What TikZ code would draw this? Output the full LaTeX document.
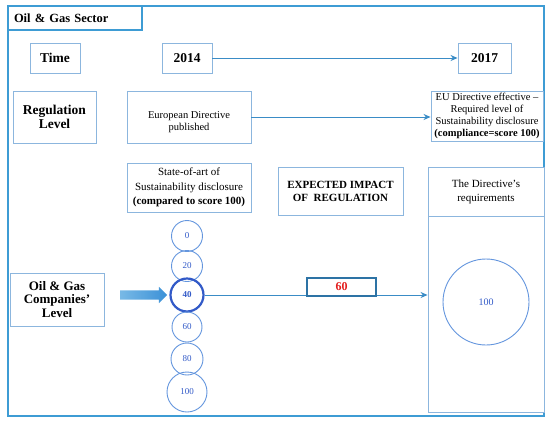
\documentclass[tikz,border=0pt]{standalone}
\usepackage{fontspec}
\setmainfont{Liberation Serif}
\usetikzlibrary{arrows.meta,shapes.arrows}
\newcommand\myfs[2]{\fontsize{#1}{#2}\selectfont}
\definecolor{frameblue}{RGB}{62,156,212}
\definecolor{boxblue}{RGB}{140,182,222}
\definecolor{lineblue}{RGB}{58,140,198}
\definecolor{circblue}{RGB}{100,150,222}
\definecolor{circtext}{RGB}{50,90,200}
\definecolor{arrowlight}{RGB}{120,185,230}
\definecolor{arrowblue}{RGB}{60,145,215}
\definecolor{tealbox}{RGB}{45,115,165}
\definecolor{valred}{RGB}{228,30,30}
\begin{document}
\begin{tikzpicture}[x=1pt,y=-1pt,
  box/.style={draw=boxblue, line width=0.9pt, inner sep=1pt, align=center, fill=white},
  bigbold/.style={font=\bfseries\myfs{13.5}{13.5}},
  small/.style={font=\myfs{10.5}{12}},
  circ/.style={circle, draw=circblue, line width=0.9pt, inner sep=0pt, text=circtext, font=\myfs{9}{10}},
  conn/.style={draw=lineblue, line width=1pt, -{Stealth[length=7pt,width=6pt]}}]
\useasboundingbox (0,0) rectangle (550,424);
\fill[white] (0,0) rectangle (550,424);
% outer frame
\node[draw=frameblue, line width=2pt, minimum width=536pt, minimum height=410pt, inner sep=0pt] (frame) at (276,211) {};
\node[box, draw=frameblue, line width=1.2pt, text width=122pt, align=left, inner xsep=6pt, inner ysep=0pt, minimum height=24pt, font=\bfseries\myfs{12.5}{13}] (sector) at (75,18) {Oil \& Gas Sector};
% time row
\node[box, bigbold, minimum width=50pt, minimum height=30pt] (time) at (55,58) {Time};
\node[box, bigbold, minimum width=50pt, minimum height=30pt] (y2014) at (187,58) {2014};
\node[box, bigbold, minimum width=53pt, minimum height=30pt] (y2017) at (484.5,58) {2017};
\draw[conn] (y2014.east) -- (y2017.west);
% regulation row
\node[box, bigbold, minimum width=83pt, minimum height=52pt] (reglev) at (54.5,117) {Regulation\\[1pt]Level};
\node[box, minimum width=124pt, minimum height=52pt,
  label={[small, align=center, yshift=-5pt]center:European Directive\\published}] (eudir) at (189,117) {};
\node[box, small, minimum width=112pt, minimum height=50pt, inner sep=0pt] (eueff) at (487,116) {EU Directive effective --\\Required level of\\Sustainability disclosure\\\textbf{(compliance=score 100)}};
\draw[conn] (eudir.east) -- (eudir.east -| eueff.west);
% third row
\node[box, font=\myfs{11}{14.5}, minimum width=124pt, minimum height=49pt] (state) at (189,187.5) {State-of-art of\\Sustainability disclosure\\\textbf{(compared to score 100)}};
\node[box, font=\bfseries\myfs{11}{13}, minimum width=125pt, minimum height=48pt] (expected) at (340.5,191) {EXPECTED IMPACT\\OF\ \ REGULATION};
\node[box, font=\myfs{11}{14}, minimum width=116pt, minimum height=49pt] (req) at (486,191.5) {The Directive's\\requirements};
\node[box, minimum width=116pt, minimum height=196pt] (reqbody) at (486,314) {};
\node[circ, minimum size=86pt, font=\myfs{10}{11}] (cbig) at (486,302) {100};
% score circles
\node[circ, minimum size=31pt] (c0) at (187,236) {0};
\node[circ, minimum size=31pt] (c20) at (187,266) {20};
\node[circ, minimum size=33pt, draw=circtext, line width=2.2pt, font=\bfseries\myfs{9}{10}] (c40) at (187,295) {40};
\node[circ, minimum size=30pt] (c60) at (187,327) {60};
\node[circ, minimum size=32pt] (c80) at (187,359) {80};
\node[circ, minimum size=40pt] (c100) at (187,392) {100};
% companies
\node[box, font=\bfseries\myfs{13}{13.5}, minimum width=94pt, minimum height=53pt] (comp) at (57,299.5) {Oil \& Gas\\Companies'\\Level};
\node[single arrow, draw=none, left color=arrowlight, right color=arrowblue, minimum height=47pt, minimum width=16pt, single arrow head extend=3.5pt, inner xsep=0pt, inner ysep=4.5pt, anchor=tip] (barrow) at ([xshift=-2pt]c40.west) {};
% impact line
\draw[conn] (c40.east) -- (c40.east -| reqbody.west);
\node[box, draw=tealbox, line width=1.3pt, minimum width=69pt, minimum height=18pt, inner sep=0pt, text=valred, font=\bfseries\myfs{12}{12}] (b60) at (341.5,287) {60};
\end{tikzpicture}
\end{document}
